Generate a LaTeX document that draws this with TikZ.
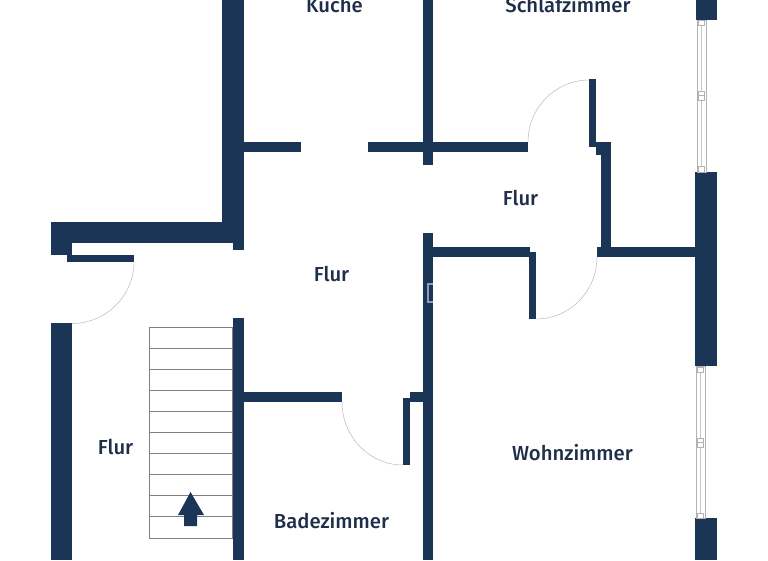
\documentclass[tikz,border=0pt]{standalone}
\usepackage{fontspec}
\setmainfont{Fira Sans}[UprightFont=* Medium]
\definecolor{wallblue}{HTML}{1B3556}
\definecolor{labelblue}{HTML}{1F2F4A}
\definecolor{markblue}{HTML}{8F9DB3}
\begin{document}
\begin{tikzpicture}[
        x=1pt,
        y=-1pt,
        wall/.style = {fill=wallblue},
        leaf/.style = {fill=wallblue},
        swing/.style = {draw=gray!55, line width=0.5pt},
        stair/.style = {draw=gray, line width=0.9pt},
        frame/.style = {draw=gray!60, line width=0.6pt, fill=white},
        pane/.style = {draw=gray!45, line width=1.6pt},
        room/.style = {font=\fontsize{20.3}{22}\selectfont, text=labelblue, inner sep=0pt}
        ]

        \clip (0,0) rectangle (768,560);

        % Treppe
        \draw[stair] (149.7,327) rectangle (232.5,538);
        \foreach \y in {348.1,369.2,390.3,411.4,432.5,453.6,474.7,495.8,516.9}
            \draw[stair] (149.7,\y) -- (232.5,\y);
        \fill[wall] (190.5,492) -- (204,515) -- (197,515) -- (197,526) -- (184,526) -- (184,515) -- (178,515) -- cycle;

        % Waende
        \fill[wall] (222,0) rectangle (244,222);
        \fill[wall] (51,222) rectangle (244,243);
        \fill[wall] (233,243) rectangle (244,250);
        \fill[wall] (51,243) rectangle (72,255);
        \fill[wall] (51,323) rectangle (72,560);
        \fill[wall] (233,318) rectangle (243.5,560);
        \fill[wall] (243,141.7) rectangle (300.5,151.7);
        \fill[wall] (368,141.7) rectangle (528,151.7);
        \fill[wall] (423,0) rectangle (433,165);
        \fill[wall] (423,233) rectangle (433,560);
        \fill[wall] (433,247) rectangle (530,257);
        \fill[wall] (596,142) rectangle (611,155);
        \fill[wall] (601,155) rectangle (611,247);
        \fill[wall] (597,247) rectangle (696,257);
        \fill[wall] (243,392) rectangle (342,402);
        \fill[wall] (410,392) rectangle (423,402);
        \fill[wall] (696,0) rectangle (717,20);
        \fill[wall] (695,172) rectangle (717,366);
        \fill[wall] (695,518) rectangle (717,560);
        \draw[markblue, line width=2pt] (433,284) -- (427.5,284) -- (427.5,302) -- (433,302);

        % Tueren
        \fill[leaf] (67,255) rectangle (134,261.5);
        \fill[leaf] (589,79) rectangle (596,147);
        \fill[leaf] (529,252) rectangle (536,319);
        \fill[leaf] (403,398) rectangle (410,465);
        \draw[swing] (134,261.5) arc[start angle=0, end angle=-90, x radius=62, y radius=-62];
        \draw[swing] (528,142) arc[start angle=180, end angle=90, x radius=61, y radius=-62];
        \draw[swing] (597,257) arc[start angle=0, end angle=-90, x radius=61, y radius=-62];
        \draw[swing] (342,402) arc[start angle=180, end angle=270, x radius=61, y radius=-63];

        % Fenster
        \draw[frame] (697,20) rectangle (706,172);
        \draw[pane] (701.5,26) -- (701.5,91);
        \draw[pane] (701.5,100) -- (701.5,166);
        \draw[frame] (698.5,20) rectangle (704.5,25.5);
        \draw[frame] (698.5,91) rectangle (704.5,100);
        \draw[frame] (698.5,95.5) -- (704.5,95.5);
        \draw[frame] (698.5,166) rectangle (704.5,172);
        \draw[frame] (696,366) rectangle (705,518);
        \draw[pane] (700.5,372) -- (700.5,438);
        \draw[pane] (700.5,447) -- (700.5,513);
        \draw[frame] (697.5,367) rectangle (703.5,372);
        \draw[frame] (697.5,438) rectangle (703.5,447);
        \draw[frame] (697.5,442.5) -- (703.5,442.5);
        \draw[frame] (697.5,513) rectangle (703.5,518);

        % Raeume
        \node[room] (kuche) at (334.5,5) {Kuche};
        \node[room] (schlaf) at (568,5) {Schlafzimmer};
        \node[room] (flurost) at (520.5,198) {Flur};
        \node[room] (flurmitte) at (331.5,274) {Flur};
        \node[room] (flurwest) at (115.5,447) {Flur};
        \node[room] (bad) at (331.5,521) {Badezimmer};
        \node[room] (wohn) at (572.5,453) {Wohnzimmer};

\end{tikzpicture}
\end{document}
